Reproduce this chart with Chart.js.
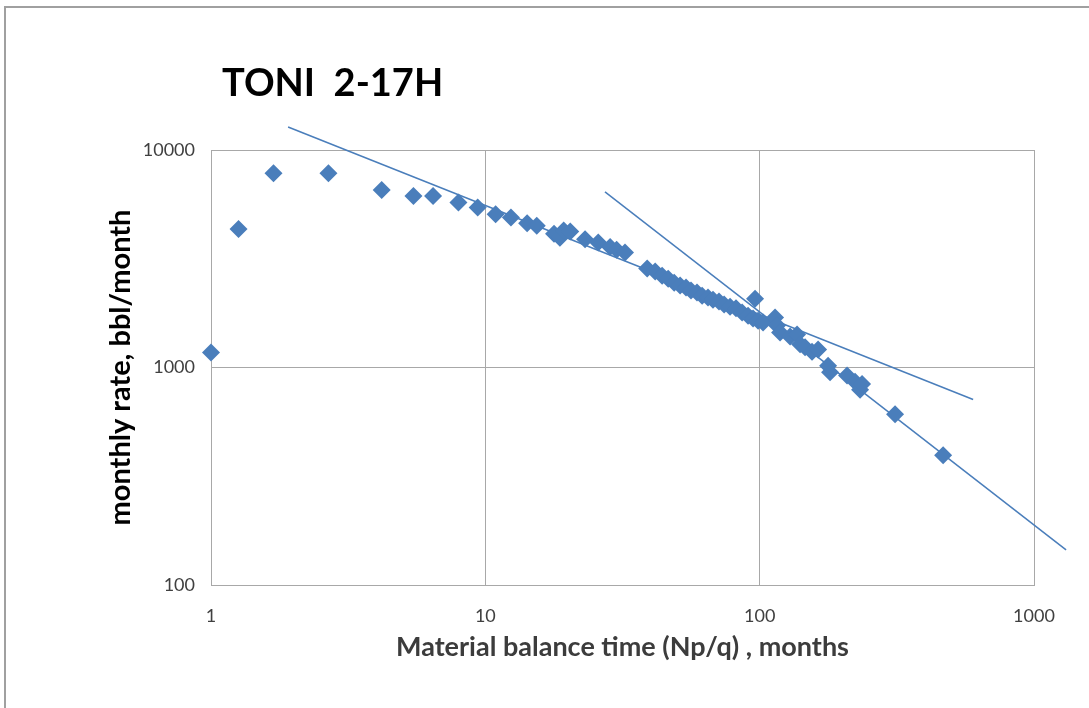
<!DOCTYPE html>
<html>
<head>
<meta charset="utf-8">
<script src="https://cdn.jsdelivr.net/npm/chart.js@4.4.0/dist/chart.umd.min.js"></script>
<style>
html, body { margin: 0; padding: 0; background: #fff; }
#wrap { position: relative; width: 1089px; height: 708px; overflow: hidden; }
#frame { position: absolute; left: 4px; top: 6px; right: -4px; bottom: -4px; border-left: 2px solid #a0a0a0; border-top: 2px solid #a0a0a0; }
canvas { position: absolute; left: 0; top: 0; }
</style>
</head>
<body>
<div id="wrap">
  <div id="frame"></div>
  <canvas id="rtaChart" width="1089" height="708"></canvas>
</div>
<script>
// Material balance time (months) and monthly rate (bbl/month)
const mbt = [1, 1.26, 1.69, 2.68, 4.19, 5.47, 6.45, 7.98, 9.38, 10.9, 12.4, 14.2, 15.4,
    17.8, 18.7, 19.3, 20.4, 23.1, 25.8, 28.5, 30.1, 32.3, 38.9, 41.6, 44.1, 46.4, 48.8,
    51.3, 53.9, 56.2, 59.1, 61.7, 64.8, 67.6, 71.1, 74.2, 78.0, 82.0, 86.3, 90.7, 94.6,
    96.2, 98.7, 102.9, 113.8, 115.7, 118.7, 129.1, 136.9, 140.4, 146.4, 155.2, 163.3,
    177.6, 180.6, 208.2, 222.7, 232.3, 236.2, 311.6, 466.3];
const rate = [1172, 4330, 7820, 7820, 6550, 6150, 6150, 5730, 5440, 5070, 4890, 4610, 4480,
    4120, 3950, 4260, 4220, 3890, 3760, 3580, 3480, 3380, 2850, 2760, 2640, 2560, 2450,
    2380, 2330, 2260, 2210, 2140, 2100, 2050, 2010, 1950, 1900, 1870, 1790, 1730, 1680,
    2070, 1640, 1610, 1700, 1560, 1450, 1390, 1420, 1280, 1240, 1180, 1210,
    1020, 950, 920, 860, 790, 840, 610, 395];

// Power-law trend lines (end points)
const fit1X = [1.91, 600];
const fit1Y = [12750, 713];
const fit2X = [27.3, 1309];
const fit2Y = [6417, 145];

// Axis ticks
const xTicks = [1, 10, 100, 1000];
const yTicks = [100, 1000, 10000];

const blue = '#4a7ebb';
const gridGray = '#a8a8a8';

function toPoints(xs, ys) {
    return xs.map((x, i) => ({ x: x, y: ys[i] }));
}

// Title drawn at the top left like the original sheet
const titlePlugin = {
    id: 'sheetTitle',
    afterDraw(chart) {
        const ctx = chart.ctx;
        ctx.save();
        ctx.font = 'bold 38px Lato';
        ctx.fillStyle = '#000';
        ctx.textBaseline = 'alphabetic';
        ctx.fillText('TONI  2-17H', 222, 96);
        ctx.restore();
    }
};

const ctx = document.getElementById('rtaChart').getContext('2d');
const chart = new Chart(ctx, {
    type: 'scatter',
    data: {
        datasets: [{
            label: 'data',
            data: toPoints(mbt, rate),
            pointStyle: 'rectRot',
            pointRadius: 9,
            pointHoverRadius: 9,
            backgroundColor: blue,
            borderColor: blue,
            borderWidth: 0,
            clip: false,
            order: 0
        }, {
            label: 'fit1',
            data: toPoints(fit1X, fit1Y),
            showLine: true,
            pointRadius: 0,
            borderColor: blue,
            borderWidth: 1.5,
            clip: false,
            order: 1
        }, {
            label: 'fit2',
            data: toPoints(fit2X, fit2Y),
            showLine: true,
            pointRadius: 0,
            borderColor: blue,
            borderWidth: 1.5,
            clip: false,
            order: 1
        }]
    },
    options: {
        responsive: false,
        animation: false,
        devicePixelRatio: 1,
        layout: {
            padding: { left: 100, top: 150, right: 55, bottom: 45 }
        },
        plugins: {
            legend: { display: false },
            tooltip: { enabled: false }
        },
        scales: {
            x: {
                type: 'logarithmic',
                min: 1,
                max: 1000,
                afterBuildTicks: scale => { scale.ticks = xTicks.map(v => ({ value: v })); },
                afterFit: scale => { scale.height = 78; },
                grid: { color: gridGray, drawTicks: false },
                border: { color: gridGray },
                ticks: {
                    padding: 20,
                    color: '#404040',
                    font: { family: 'Lato', size: 18 },
                    callback: v => String(v)
                },
                title: {
                    display: true,
                    text: 'Material balance time (Np/q) , months',
                    color: '#3c3c3c',
                    font: { family: 'Lato', size: 27, weight: 'bold' },
                    padding: { top: 0, bottom: 0 }
                }
            },
            y: {
                type: 'logarithmic',
                min: 100,
                max: 10000,
                afterBuildTicks: scale => { scale.ticks = yTicks.map(v => ({ value: v })); },
                afterFit: scale => { scale.width = 111; },
                grid: { color: gridGray, drawTicks: false },
                border: { color: gridGray },
                ticks: {
                    padding: 16,
                    color: '#404040',
                    font: { family: 'Lato', size: 18 },
                    callback: v => String(v)
                },
                title: {
                    display: true,
                    text: 'monthly rate, bbl/month',
                    color: '#000',
                    font: { family: 'Lato', size: 29, weight: 'bold' },
                    padding: { top: 3, bottom: 0 }
                }
            }
        }
    },
    plugins: [titlePlugin]
});
</script>
</body>
</html>
